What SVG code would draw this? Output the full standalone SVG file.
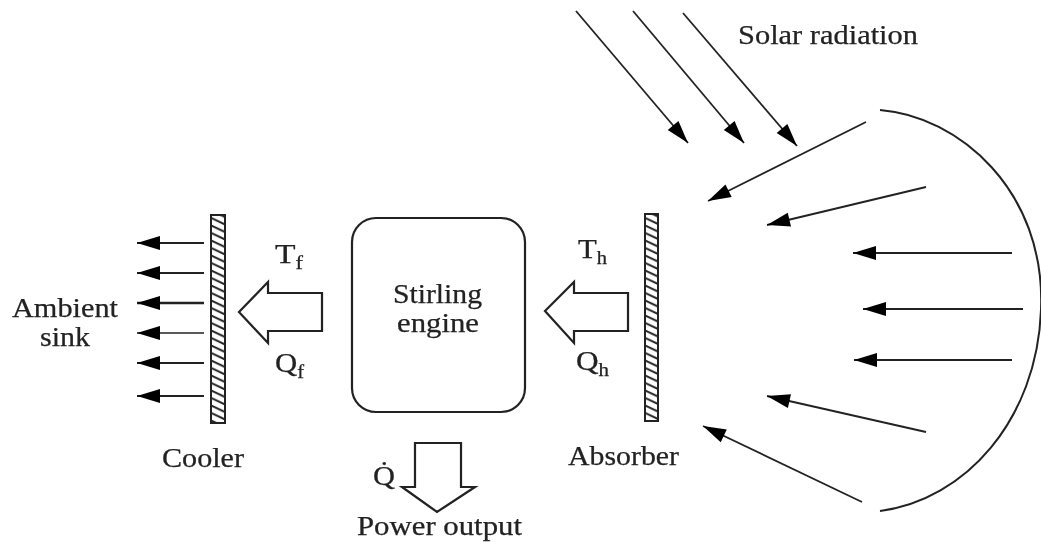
<svg xmlns="http://www.w3.org/2000/svg" width="1041" height="542" viewBox="0 0 1041 542">
<style>
text{font-family:"Liberation Serif","Times New Roman",serif;font-size:27px;fill:#222;stroke:#222;stroke-width:0.25}
.sub{font-size:18px}
.ray{stroke:#222;stroke-width:1.8;fill:none;marker-end:url(#head)}
.block{fill:#fff;stroke:#222;stroke-width:2.2;stroke-linejoin:miter}
.plate{fill:url(#hatch);stroke:#222;stroke-width:2}
g{filter:url(#soft)}
</style>
<defs>
<filter id="soft" x="-5%" y="-5%" width="110%" height="110%"><feGaussianBlur stdDeviation="0.5"/></filter>
<marker id="head" markerUnits="userSpaceOnUse" markerWidth="26" markerHeight="18" refX="24" refY="8" orient="auto">
<path d="M1 1 L24 8 L1 15 Z" fill="#000"/>
</marker>
<pattern id="hatch" patternUnits="userSpaceOnUse" width="14" height="7.5">
<rect width="14" height="7.5" fill="#fff"/>
<path d="M-2 -1 L16 7.5 M-2 -8.5 L16 0 M-2 6.5 L16 15" stroke="#222" stroke-width="2"/>
</pattern>
</defs>
<g id="connectors">
<line class="ray" x1="576" y1="11" x2="688" y2="143"/>
<line class="ray" x1="633" y1="11" x2="744" y2="143"/>
<line class="ray" x1="683" y1="13" x2="797" y2="146"/>
<line class="ray" x1="866" y1="122" x2="708" y2="201"/>
<line class="ray" x1="926" y1="187" x2="767" y2="225"/>
<line class="ray" x1="1012" y1="253" x2="853" y2="253"/>
<line class="ray" x1="1023" y1="309" x2="863" y2="309"/>
<line class="ray" x1="1012" y1="360" x2="854" y2="360"/>
<line class="ray" x1="926" y1="432" x2="767" y2="396"/>
<line class="ray" x1="862" y1="502" x2="703" y2="426"/>
<line class="ray" x1="204" y1="243" x2="137" y2="243"/>
<line class="ray" x1="204" y1="273" x2="137" y2="273"/>
<line class="ray" x1="204" y1="303" x2="137" y2="303" style="stroke-width:2.6"/>
<line class="ray" x1="204" y1="333" x2="137" y2="333" style="stroke-width:1.4"/>
<line class="ray" x1="204" y1="363" x2="137" y2="363"/>
<line class="ray" x1="204" y1="396" x2="137" y2="396"/>
</g>
<g id="reflector"><path d="M880 110 C958 116 1046 190 1041 310 C1037 420 965 500 880 511" fill="none" stroke="#222" stroke-width="2"/></g>
<g id="cooler"><rect class="plate" x="211" y="215" width="14" height="208"/><text x="162" y="467" textLength="82" lengthAdjust="spacingAndGlyphs">Cooler</text></g>
<g id="absorber"><rect class="plate" x="645" y="214" width="13" height="207"/><text x="568" y="465" textLength="111" lengthAdjust="spacingAndGlyphs">Absorber</text></g>
<g id="stirling-engine"><rect x="352" y="218" width="173" height="194" rx="24" fill="#fff" stroke="#222" stroke-width="2.2"/>
<text x="393" y="303" textLength="89" lengthAdjust="spacingAndGlyphs">Stirling</text><text x="397" y="332" textLength="82" lengthAdjust="spacingAndGlyphs">engine</text></g>
<g id="heat-arrow-cold"><path class="block" d="M322 293 H268 V282 L239 312 L268 343 V331 H322 Z"/>
<text x="275" y="263" textLength="28" lengthAdjust="spacingAndGlyphs">T<tspan class="sub" dy="6">f</tspan></text><text x="275" y="372" textLength="29" lengthAdjust="spacingAndGlyphs">Q<tspan class="sub" dy="6">f</tspan></text></g>
<g id="heat-arrow-hot"><path class="block" d="M628 293 H574 V282 L545 311 L574 343 V331 H628 Z"/>
<text x="578" y="258" textLength="29" lengthAdjust="spacingAndGlyphs">T<tspan class="sub" dy="6">h</tspan></text><text x="576" y="370" textLength="33" lengthAdjust="spacingAndGlyphs">Q<tspan class="sub" dy="6">h</tspan></text></g>
<g id="power-output"><path class="block" d="M415 487 V443 H461 V487 H475 L437 512 L402 487 Z"/>
<text x="373" y="485" textLength="22" lengthAdjust="spacingAndGlyphs">Q̇</text><text x="357" y="535" textLength="165" lengthAdjust="spacingAndGlyphs">Power output</text></g>
<g id="labels">
<text x="738" y="44" textLength="180" lengthAdjust="spacingAndGlyphs">Solar radiation</text>
<text x="12" y="317" textLength="106" lengthAdjust="spacingAndGlyphs">Ambient</text>
<text x="40" y="346" textLength="50" lengthAdjust="spacingAndGlyphs">sink</text>
</g>
</svg>
